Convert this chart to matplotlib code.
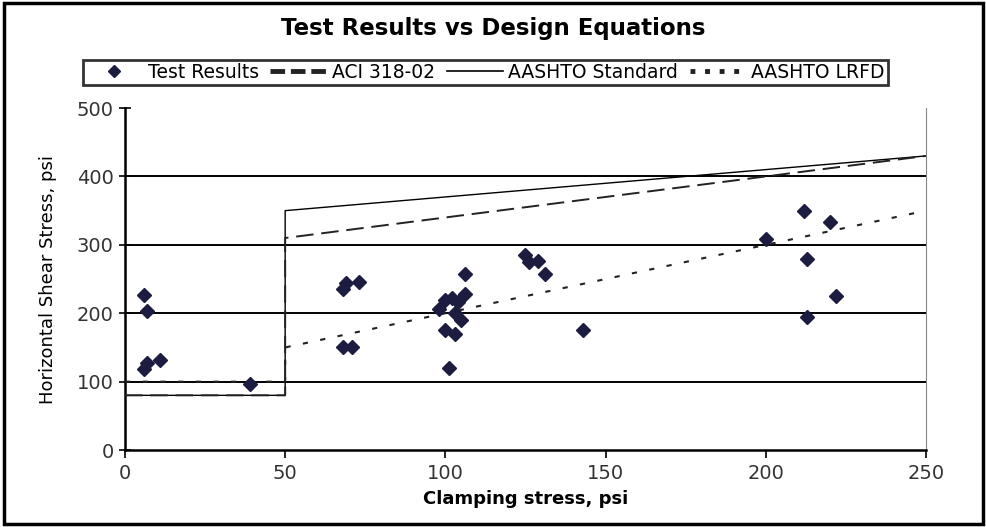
import matplotlib
matplotlib.use('Agg')
import matplotlib.pyplot as plt
from matplotlib.patches import Rectangle
from matplotlib.lines import Line2D

plt.rcParams['font.family'] = ['DejaVu Sans']

# test results (clamping stress, horizontal shear stress)
test_x = [6, 7, 7, 6, 11, 39, 68, 69, 73, 68, 71,
          100, 102, 104, 106, 98, 103, 105, 100, 103, 101, 106,
          125, 126, 129, 131, 143,
          200, 212, 220, 213, 222, 213]
test_y = [226, 204, 128, 118, 132, 97, 235, 244, 246, 150, 150,
          219, 222, 217, 228, 206, 201, 190, 176, 169, 120, 258,
          285, 275, 276, 257, 176,
          308, 350, 334, 280, 225, 195]

# design equations
aci_x = [0, 50, 50, 100, 150, 200, 250]
aci_y = [80, 80, 310, 340, 370, 400, 430]
std_x = [0, 50, 50, 100, 150, 200, 250]
std_y = [80, 80, 350, 370, 390, 410, 430]
lrfd_x = [0, 50, 50, 100, 150, 200, 250]
lrfd_y = [100, 100, 150, 200, 250, 300, 350]

fig = plt.figure(figsize=(9.87, 5.27), dpi=100)
ax = fig.add_axes([0.1266, 0.146, 0.8116, 0.649])

for v in [100, 200, 300, 400]:
    ax.axhline(v, color='black', lw=1.4, zorder=1)

ax.plot(std_x, std_y, color='black', lw=1.0, zorder=2)
ax.plot(aci_x, aci_y, color='#222222', lw=1.4, dashes=(9, 4), zorder=3)
ax.plot(lrfd_x, lrfd_y, color='#222222', lw=1.5, dashes=(2.5, 6), zorder=3)
ax.plot(test_x, test_y, 'D', color='#1c1c40', ms=7.5, ls='none', zorder=4)

ax.set_xlim(0, 250)
ax.set_ylim(0, 500)
ax.set_xticks(range(0, 251, 50))
ax.set_yticks(range(0, 501, 100))
ax.tick_params(axis='y', direction='inout', length=8, width=1.2, labelsize=14,
               labelcolor='#333333', pad=4)
ax.tick_params(axis='x', direction='out', length=6, width=1.2, labelsize=14,
               labelcolor='#333333', pad=4)
ax.spines['top'].set_visible(False)
ax.spines['right'].set_color('#888888')
ax.spines['left'].set_linewidth(1.8)
ax.spines['bottom'].set_linewidth(1.8)

ax.set_xlabel('Clamping stress, psi', fontsize=13, fontweight='bold', labelpad=5)
ax.set_ylabel('Horizontal Shear Stress, psi', fontsize=13, labelpad=14)

fig.suptitle('Test Results vs Design Equations', fontsize=16.5, fontweight='bold', y=0.968)

handles = [
    Line2D([], [], marker='D', color='#1c1c40', ms=6, ls='none'),
    Line2D([], [], color='#222222', lw=3.5, dashes=(3, 1.2)),
    Line2D([], [], color='black', lw=1.2),
    Line2D([], [], color='#222222', lw=3.5, dashes=(1, 2)),
]
labels = ['Test Results', 'ACI 318-02', 'AASHTO Standard', 'AASHTO LRFD']
leg = fig.legend(handles, labels, loc='center', bbox_to_anchor=(0.492, 0.863),
                 ncol=4, fontsize=13.5, frameon=True, fancybox=False,
                 edgecolor='black', borderpad=0.15, handlelength=3.0,
                 handletextpad=0.3, columnspacing=0.6, borderaxespad=0)
leg.get_frame().set_linewidth(2)

fig.patches.append(Rectangle((0.004, 0.005), 0.992, 0.99, transform=fig.transFigure,
                             fill=False, edgecolor='black', lw=2.5))

fig.savefig('out.png', dpi=100)
